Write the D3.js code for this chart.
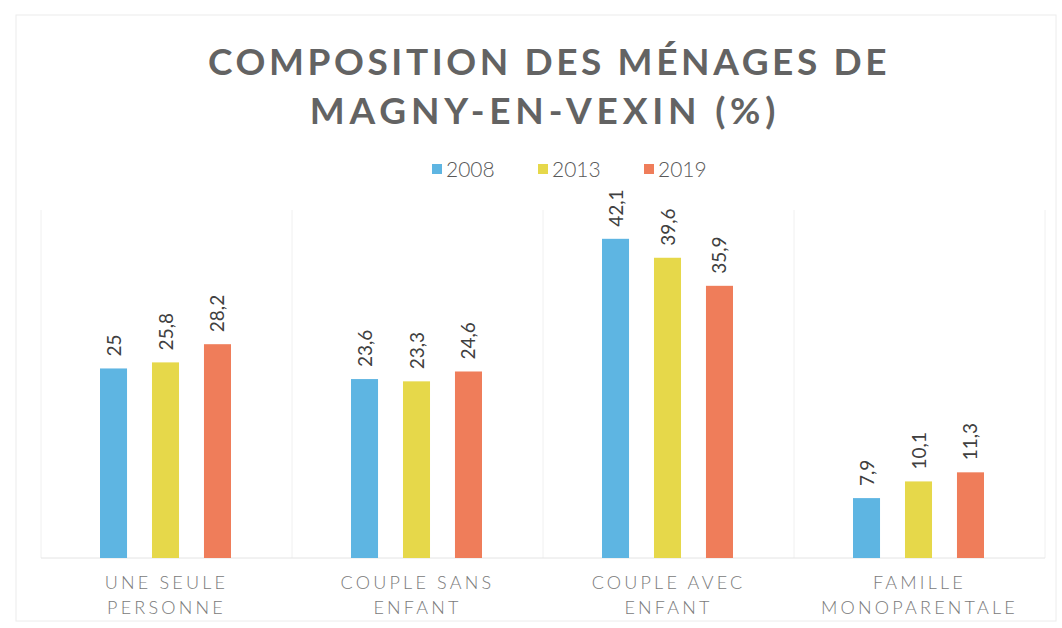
<!DOCTYPE html>
<html>
<head>
<meta charset="utf-8">
<script src="https://cdn.jsdelivr.net/npm/d3@7"></script>
<style>
  body { margin: 0; background: #fff; }
</style>
</head>
<body>
<div class="canvas"></div>
<script>
const categories = [['UNE SEULE', 'PERSONNE'], ['COUPLE SANS', 'ENFANT'], ['COUPLE AVEC', 'ENFANT'], ['FAMILLE', 'MONOPARENTALE']];
const years = ['2008', '2013', '2019'];
const values2008 = [25, 23.6, 42.1, 7.9];
const values2013 = [25.8, 23.3, 39.6, 10.1];
const values2019 = [28.2, 24.6, 35.9, 11.3];
const seriesValues = [values2008, values2013, values2019];

const width = 1062, height = 628;
const margin = {top: 210, right: 17, bottom: 70, left: 41};
const graphWidth = width - margin.left - margin.right;
const graphHeight = height - margin.top - margin.bottom;

const svg = d3.select('.canvas')
    .append('svg')
    .attr('width', width)
    .attr('height', height)
    .style('font-family', 'Lato, "DejaVu Sans", sans-serif');

// faint scanned frame
svg.append('rect')
    .attr('x', 16).attr('y', 15)
    .attr('width', 1040).attr('height', 606)
    .attr('fill', 'none')
    .attr('stroke', '#ececec');

// title
const title = svg.append('text')
    .attr('text-anchor', 'middle')
    .attr('fill', '#636363')
    .attr('font-weight', 'bold')
    .attr('font-size', 37);
title.append('tspan').attr('x', 549).attr('y', 75).attr('letter-spacing', 3.6).text('COMPOSITION DES MÉNAGES DE');
title.append('tspan').attr('x', 545).attr('y', 124).attr('letter-spacing', 4.8).text('MAGNY-EN-VEXIN (%)');

const colors = d3.scaleOrdinal().domain(years).range(['#5eb5e2', '#e6d84a', '#ef7d5a']);

// legend
const legend = svg.append('g').attr('transform', 'translate(432, 169)');
const legendX = [0, 106, 212];
years.forEach((yr, i) => {
    const g = legend.append('g').attr('transform', `translate(${legendX[i]}, 0)`);
    g.append('rect').attr('x', 0).attr('y', -5).attr('width', 10).attr('height', 10).attr('fill', colors(yr));
    g.append('text').attr('x', 14).attr('y', 8)
        .attr('font-size', 21).attr('font-weight', 300).attr('fill', '#595959').text(yr);
});

const graph = svg.append('g')
    .attr('transform', `translate(${margin.left}, ${margin.top})`);

const x = d3.scaleBand()
    .domain(d3.range(categories.length))
    .range([0, graphWidth]);

const xInner = d3.scaleBand()
    .domain(years)
    .range([59, 190])
    .paddingInner(0.48);

const y = d3.scaleLinear()
    .domain([0, 45.9])
    .range([graphHeight, 0]);

// vertical separators
graph.selectAll('line.sep')
    .data(d3.range(categories.length + 1))
    .enter().append('line')
    .attr('class', 'sep')
    .attr('x1', i => i * x.bandwidth())
    .attr('x2', i => i * x.bandwidth())
    .attr('y1', 0)
    .attr('y2', graphHeight)
    .attr('stroke', '#f0f0f0');

// baseline
graph.append('line')
    .attr('x1', 0).attr('x2', graphWidth)
    .attr('y1', graphHeight).attr('y2', graphHeight)
    .attr('stroke', '#e4e4e4');

const groups = graph.selectAll('g.cat')
    .data(categories)
    .enter().append('g')
    .attr('class', 'cat')
    .attr('transform', (d, i) => `translate(${x(i)}, 0)`);

groups.each(function(cat, ci) {
    const g = d3.select(this);
    const data = years.map((yr, si) => ({year: yr, value: seriesValues[si][ci]}));

    g.selectAll('rect')
        .data(data)
        .enter().append('rect')
        .attr('x', d => xInner(d.year))
        .attr('y', d => y(d.value))
        .attr('width', xInner.bandwidth())
        .attr('height', d => graphHeight - y(d.value))
        .attr('fill', d => colors(d.year));

    g.selectAll('text.val')
        .data(data)
        .enter().append('text')
        .attr('class', 'val')
        .attr('transform', d => `translate(${xInner(d.year) + xInner.bandwidth() / 2 + 7}, ${y(d.value) - 12}) rotate(-90)`)
        .attr('font-size', 19)
        .attr('fill', '#404040')
        .text(d => String(d.value).replace('.', ','));

    const lab = g.append('text')
        .attr('text-anchor', 'middle')
        .attr('font-size', 18)
        .attr('font-weight', 300)
        .attr('letter-spacing', 3.2)
        .attr('fill', '#7a7a7a');
    cat.forEach((line, li) => {
        lab.append('tspan')
            .attr('x', x.bandwidth() / 2)
            .attr('y', graphHeight + 31 + li * 25)
            .text(line);
    });
});
</script>
</body>
</html>
